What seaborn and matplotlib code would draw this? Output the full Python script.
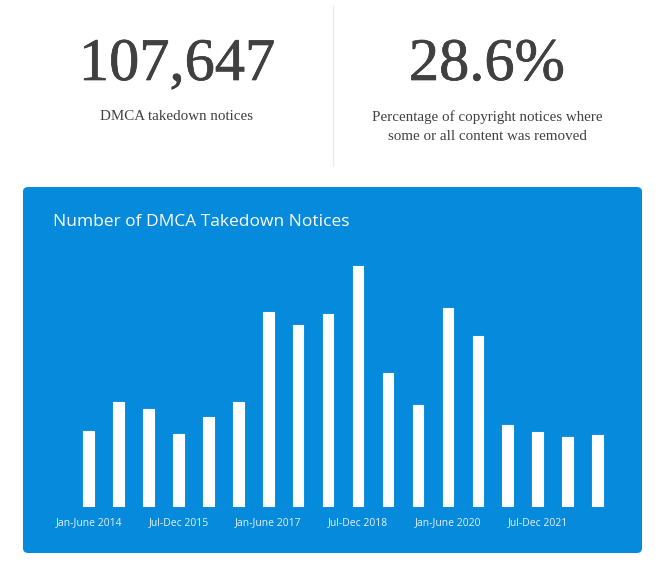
import matplotlib
matplotlib.use("Agg")
import matplotlib.pyplot as plt
import matplotlib.patheffects as pe
from matplotlib.patches import FancyBboxPatch
from matplotlib.lines import Line2D
import seaborn as sns
import pandas as pd

# ---- data ----
periods = []
for yr in range(2014, 2023):
    periods.append(f"Jan-June {yr}")
    periods.append(f"Jul-Dec {yr}")
notices = [3550, 4920, 4590, 3400, 4190, 4900, 9110, 8510, 9010,
           11250, 6240, 4760, 9310, 7990, 3840, 3500, 3260, 3360]
shown_ticks = [0, 3, 6, 9, 12, 15]
total_label = "107,647"
total_caption = "DMCA takedown notices"
pct_label = "28.6%"
pct_caption = "Percentage of copyright notices where\nsome or all content was removed"
chart_title = "Number of DMCA Takedown Notices"

df = pd.DataFrame({"period": periods, "notices": notices})

sns.set_theme(style="white")
plt.rcParams["font.family"] = ["Open Sans", "DejaVu Sans"]

W, H = 664, 572
fig = plt.figure(figsize=(W / 100, H / 100), dpi=100)
fig.patch.set_facecolor("white")

def fx(px):
    return px / W

def fy(py):
    return 1 - py / H

BLUE = "#068ADB"
DARK = "#404040"

# blue panel
panel = FancyBboxPatch((fx(23), fy(553)), fx(642) - fx(23), fy(187) - fy(553),
                       boxstyle="round,pad=0,rounding_size=0.008",
                       transform=fig.transFigure, facecolor=BLUE,
                       edgecolor="none", zorder=-5)
fig.patches.append(panel)

# divider
fig.add_artist(Line2D([fx(333), fx(333)], [fy(5), fy(166)],
                      transform=fig.transFigure, color="#ebebeb", lw=1))

# KPI texts
serif = ["Liberation Serif", "DejaVu Serif"]
thick = [pe.withStroke(linewidth=0.5, foreground=DARK)]
fig.text(fx(177), fy(66), total_label, ha="center", va="center",
         fontsize=43.5, color=DARK, family=serif, path_effects=thick)
fig.text(fx(177), fy(117), total_caption, ha="center", va="center",
         fontsize=10.8, color=DARK, family=serif)
fig.text(fx(487), fy(66), pct_label, ha="center", va="center",
         fontsize=43.5, color=DARK, family=serif, path_effects=thick)
fig.text(fx(487), fy(127), pct_caption, ha="center", va="center",
         fontsize=10.8, color=DARK, family=serif, linespacing=1.6)

# chart title
fig.text(fx(53), fy(222), chart_title, ha="left", va="center",
         fontsize=12.5, color="white", fontweight=500)

# bar axes
left_px = 88.7 - 0.5 * 29.93
right_px = 597.5 + 0.5 * 29.93
ax = fig.add_axes([fx(left_px), fy(507), fx(right_px) - fx(left_px), fy(250) - fy(507)])
ax.set_zorder(2)
ax.set_facecolor("none")
ax.patch.set_alpha(0)
sns.barplot(data=df, x="period", y="notices", color="white", width=0.35,
            saturation=1, ax=ax, edgecolor="white", linewidth=0.8)
for p in ax.patches:
    p.set_joinstyle("round")
ax.set_xlim(-0.5, len(periods) - 0.5)
ax.set_ylim(0, 12000)
ax.set_xticks(shown_ticks)
ax.set_xticklabels([periods[i] for i in shown_ticks], color="#e4f2fc", fontsize=7.5)
ax.tick_params(axis="x", length=0, pad=7)
ax.set_yticks([])
ax.set_xlabel("")
ax.set_ylabel("")
for s in ax.spines.values():
    s.set_visible(False)

fig.savefig("out.png", dpi=100, facecolor="white")
